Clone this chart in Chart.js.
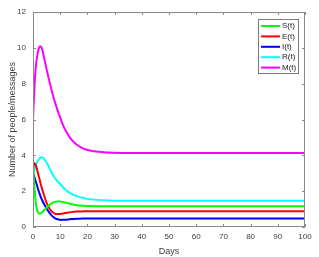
<!DOCTYPE html>
<html>
<head>
<meta charset="utf-8">
<script src="https://cdn.jsdelivr.net/npm/chart.js@4/dist/chart.umd.min.js"></script>
<style>
html,body{margin:0;padding:0;background:#fff;}
#wrap{width:319px;height:257px;position:relative;}
</style>
</head>
<body>
<div id="wrap"><canvas id="c" width="319" height="257"></canvas></div>
<script>
const days = [0,0.5,1,1.5,2,2.5,3,3.5,4,5,6,7,8,9,10,11,12,14,16,18,20,25,30,40,50,60,70,80,90,100];
const sVals = [3.5,2.3,1.4,0.95,0.78,0.74,0.78,0.85,0.92,1.08,1.22,1.33,1.4,1.43,1.42,1.39,1.36,1.28,1.22,1.19,1.17,1.16,1.16,1.16,1.16,1.16,1.16,1.16,1.16,1.16];
const eVals = [3.3,3.55,3.45,3.2,2.9,2.6,2.3,2.05,1.8,1.35,1.05,0.85,0.75,0.72,0.73,0.75,0.78,0.83,0.86,0.87,0.88,0.88,0.88,0.88,0.88,0.88,0.88,0.88,0.88,0.88];
const iVals = [3.0,2.8,2.55,2.3,2.05,1.82,1.62,1.45,1.3,1.03,0.8,0.62,0.5,0.43,0.4,0.4,0.41,0.44,0.46,0.47,0.48,0.48,0.48,0.48,0.48,0.48,0.48,0.48,0.48,0.48];
const rVals = [2.9,3.2,3.45,3.62,3.75,3.84,3.88,3.88,3.82,3.6,3.3,3.0,2.75,2.55,2.4,2.22,2.07,1.86,1.72,1.63,1.57,1.5,1.47,1.46,1.46,1.46,1.46,1.46,1.46,1.46];
const mVals = [6.0,7.7,8.9,9.5,9.9,10.07,10.05,9.85,9.5,8.8,8.15,7.55,7.0,6.52,6.1,5.7,5.38,4.9,4.6,4.42,4.3,4.18,4.14,4.13,4.13,4.13,4.13,4.13,4.13,4.13];
const seriesNames = ['S(t)','E(t)','I(t)','R(t)','M(t)'];
const seriesColors = ['#00ff00','#ff0000','#0000ff','#00ffff','#ff00ff'];
const xTicks = [0,10,20,30,40,50,60,70,80,90,100];
const yTicks = [0,2,4,6,8,10,12];

const allVals = [sVals,eVals,iVals,rVals,mVals];
const datasets = allVals.map((vals,k)=>({
  label: seriesNames[k],
  data: days.map((d,i)=>({x:d,y:vals[i]})),
  borderColor: seriesColors[k],
  backgroundColor: seriesColors[k],
  borderWidth: 2,
  pointRadius: 0,
  tension: 0.4,
  fill: false
}));

const axisColor = '#8a8a8a';
const textColor = '#404040';
const fontFam = '"Liberation Sans", Arial, sans-serif';

const framePlugin = {
  id: 'frame',
  afterDraw(chart){
    const {ctx, chartArea:a, scales} = chart;
    ctx.save();
    ctx.strokeStyle = axisColor;
    ctx.lineWidth = 1;
    ctx.strokeRect(a.left+0.5, a.top+0.5, a.right-a.left-1, a.bottom-a.top-1);
    const tl = 3;
    ctx.beginPath();
    xTicks.forEach(v=>{
      const x = Math.round(scales.x.getPixelForValue(v))+0.5;
      ctx.moveTo(x,a.bottom); ctx.lineTo(x,a.bottom-tl);
      ctx.moveTo(x,a.top); ctx.lineTo(x,a.top+tl);
    });
    yTicks.forEach(v=>{
      const y = Math.round(scales.y.getPixelForValue(v))+0.5;
      ctx.moveTo(a.left,y); ctx.lineTo(a.left+tl,y);
      ctx.moveTo(a.right,y); ctx.lineTo(a.right-tl,y);
    });
    ctx.stroke();
    // legend box
    const bx = 258, by = 19, bw = 40, bh = 54;
    ctx.fillStyle = '#fff';
    ctx.fillRect(bx,by,bw,bh);
    ctx.strokeStyle = '#7a7a7a';
    ctx.strokeRect(bx+0.5,by+0.5,bw,bh);
    ctx.font = '8px ' + fontFam;
    ctx.textBaseline = 'middle';
    ctx.textAlign = 'left';
    seriesNames.forEach((n,i)=>{
      const y = by + 7 + i*10.4;
      ctx.strokeStyle = seriesColors[i];
      ctx.lineWidth = 2;
      ctx.beginPath(); ctx.moveTo(bx+3,y); ctx.lineTo(bx+22,y); ctx.stroke();
      ctx.fillStyle = '#222';
      ctx.fillText(n, bx+24, y);
    });
    ctx.restore();
  }
};

new Chart(document.getElementById('c'), {
  type: 'line',
  data: { datasets },
  options: {
    responsive: false,
    animation: false,
    devicePixelRatio: 1,
    layout: { padding: { top: 12, right: 14, left: 7, bottom: 0 } },
    plugins: { legend: { display: false }, tooltip: { enabled: false } },
    scales: {
      x: {
        type: 'linear', min: 0, max: 100,
        afterBuildTicks(s){ s.ticks = xTicks.map(v=>({value:v})); },
        afterFit(s){ s.height = 30; },
        grid: { display: false, drawTicks: false },
        border: { display: false },
        ticks: { color: textColor, font: { size: 8, family: fontFam }, padding: 5, maxRotation: 0, autoSkip: false },
        title: { display: true, text: 'Days', color: textColor, font: { size: 9, family: fontFam }, padding: { top: 1, bottom: 0 } }
      },
      y: {
        type: 'linear', min: 0, max: 12,
        afterBuildTicks(s){ s.ticks = yTicks.map(v=>({value:v})); },
        afterFit(s){ s.width = 26; },
        grid: { display: false, drawTicks: false },
        border: { display: false },
        ticks: { color: textColor, font: { size: 8, family: fontFam }, padding: 7 },
        title: { display: true, text: 'Number of people/messages', color: textColor, font: { size: 9, family: fontFam }, padding: { top: 0, bottom: 0 } }
      }
    }
  },
  plugins: [framePlugin]
});
</script>
</body>
</html>
